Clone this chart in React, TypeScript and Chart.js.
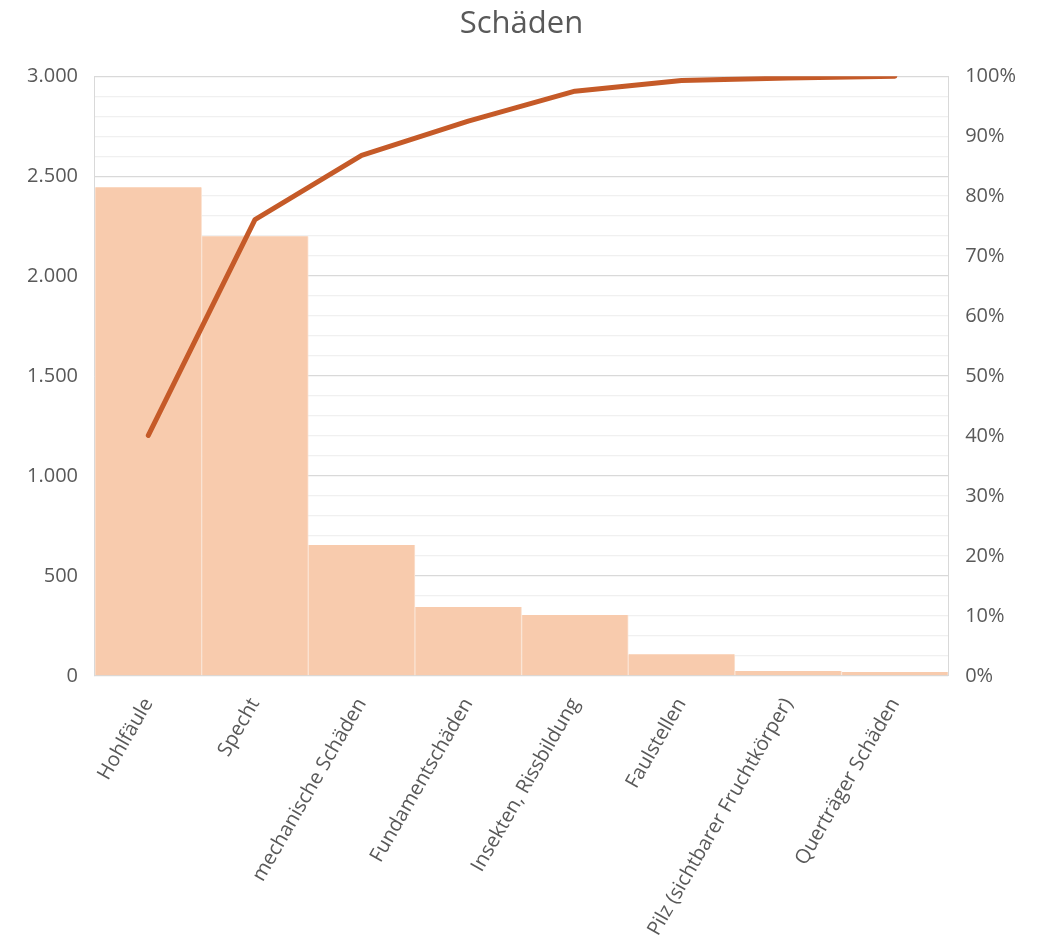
import React, { useEffect, useRef } from "react";
import { Chart, registerables } from "chart.js";

Chart.register(...registerables);

// Damage categories, sorted by count
const categories = [
  "Hohlfäule",
  "Specht",
  "mechanische Schäden",
  "Fundamentschäden",
  "Insekten, Rissbildung",
  "Faulstellen",
  "Pilz (sichtbarer Fruchtkörper)",
  "Querträger Schäden",
];

// Number of trees per damage type
const counts = [2445, 2200, 655, 345, 305, 108, 25, 20];

// Cumulative share (0..1)
const cumulativeShare = [0.401, 0.761, 0.868, 0.925, 0.975, 0.993, 0.997, 1.0];

// Axis ranges
const countMax = 3000;
const countLabelStep = 500;
const countGridStep = 100;
const shareMax = 1;
const shareStep = 0.1;

const FONT = "'Open Sans', 'DejaVu Sans', sans-serif";
const TEXT = "#595959";

export default function App() {
  const canvasRef = useRef<HTMLCanvasElement | null>(null);

  useEffect(() => {
    document.body.style.margin = "0";
    const canvas = canvasRef.current;
    if (!canvas) return;

    const chart = new Chart(canvas, {
      data: {
        labels: categories,
        datasets: [
          {
            type: "line",
            data: cumulativeShare,
            yAxisID: "y1",
            borderColor: "#C55A28",
            borderWidth: 5,
            borderCapStyle: "round",
            borderJoinStyle: "round",
            pointRadius: 0,
            tension: 0,
            order: 0,
          },
          {
            type: "bar",
            data: counts,
            yAxisID: "y",
            backgroundColor: "#F8CBAD",
            borderColor: "#FBE3D2",
            borderWidth: { left: 1, right: 1, top: 0, bottom: 0 },
            borderSkipped: false,
            categoryPercentage: 1,
            barPercentage: 1,
            order: 1,
          },
        ],
      },
      options: {
        animation: false,
        responsive: false,
        maintainAspectRatio: false,
        layout: { padding: { left: 10, right: 9, top: 6, bottom: 0 } },
        plugins: {
          legend: { display: false },
          tooltip: { enabled: false },
          title: {
            display: true,
            text: "Schäden",
            color: TEXT,
            font: { family: FONT, size: 31, weight: "normal" },
            padding: { top: 0, bottom: 33 },
          },
        },
        scales: {
          x: {
            grid: { display: false },
            border: { color: "#D9D9D9", width: 1 },
            ticks: {
              color: TEXT,
              font: { family: FONT, size: 20 },
              minRotation: 60,
              maxRotation: 60,
              padding: 10,
              autoSkip: false,
            },
          },
          y: {
            position: "left",
            min: 0,
            max: countMax,
            border: { display: true, color: "#D9D9D9", width: 1 },
            grid: {
              color: (ctx: any) =>
                ctx.tick && ctx.tick.value % countLabelStep === 0 ? "#D9D9D9" : "#F0F0F0",
              lineWidth: 1.3,
              drawTicks: false,
            },
            ticks: {
              stepSize: countGridStep,
              autoSkip: false,
              color: TEXT,
              font: { family: FONT, size: 20 },
              padding: 17,
              callback: (v: any) =>
                Number(v) % countLabelStep === 0
                  ? Number(v).toLocaleString("de-DE")
                  : "",
            },
          },
          y1: {
            position: "right",
            min: 0,
            max: shareMax,
            border: { display: true, color: "#D9D9D9", width: 1 },
            grid: { display: false, drawTicks: false },
            ticks: {
              stepSize: shareStep,
              autoSkip: false,
              color: TEXT,
              font: { family: FONT, size: 20 },
              padding: 17,
              callback: (v: any) => Math.round(Number(v) * 100) + "%",
            },
          },
        },
      },
    } as any);

    return () => chart.destroy();
  }, []);

  return (
    <div style={{ width: 1042, height: 950, background: "#fff" }}>
      <canvas ref={canvasRef} width={1042} height={950} />
    </div>
  );
}
